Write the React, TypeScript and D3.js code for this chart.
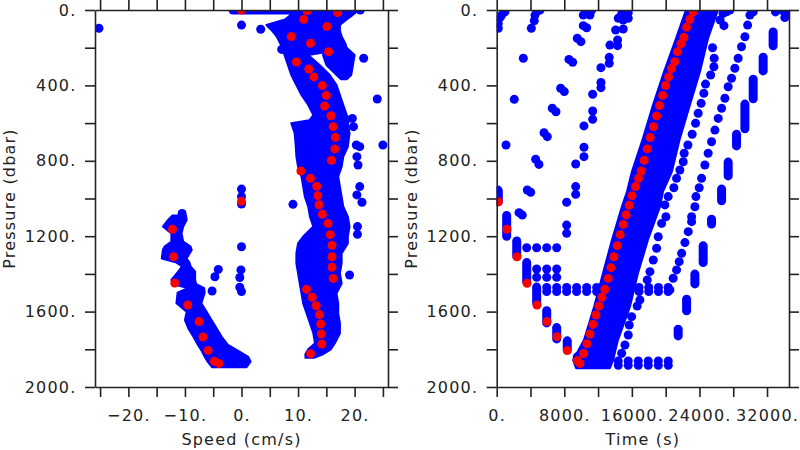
import { useEffect, useRef } from 'react';
import * as d3 from 'd3';

type Pt = [number, number];
type Row = [number, number, number]; // pressure, from, to
type Seg = [number, number, number, number];

// ---- shared axis values ----
const pressureTicks = [0, 200, 400, 600, 800, 1000, 1200, 1400, 1600, 1800, 2000];
const pressureLabels = [0, 400, 800, 1200, 1600, 2000];
const speedTicks = [-25, -20, -15, -10, -5, 0, 5, 10, 15, 20, 25];
const speedLabels = [-20, -10, 0, 10, 20];
const timeTicks = [0, 4000, 8000, 12000, 16000, 20000, 24000, 28000, 32000];
const timeLabels = [0, 8000, 16000, 24000, 32000];

// ---- left panel: speed (cm/s) vs pressure (dbar) ----
const leftRed: Pt[] = [
  [0, 0], [11.6, 4], [17.0, 14], [11.0, 50], [15.1, 88], [8.8, 141], [12.2, 177], [15.4, 221],
  [9.7, 276], [11.9, 313], [12.8, 355], [14.3, 401], [15.0, 453], [14.7, 509], [15.8, 561],
  [16.2, 619], [16.6, 675], [16.5, 737], [15.9, 797], [10.5, 854], [12.2, 893], [13.3, 935],
  [13.5, 985], [13.7, 1033], [14.3, 1084], [15.3, 1132], [15.7, 1192], [16.0, 1248], [16.0, 1309],
  [16.0, 1365], [16.2, 1424], [11.5, 1482], [12.5, 1524], [13.2, 1569], [13.8, 1616], [14.0, 1666],
  [14.1, 1719], [14.2, 1772], [12.2, 1823],
  [0, 1015], [-12.2, 1163], [-12.0, 1309], [-11.8, 1448], [-9.5, 1565], [-7.5, 1653],
  [-6.8, 1735], [-5.9, 1806], [-4.8, 1864], [-4.0, 1875],
];

const leftBlue: Pt[] = [
  [-25.2, 97], [0, 80], [3.4, 102], [7.1, 209], [21.0, 0], [21.6, 256], [24.0, 472],
  [19.6, 575], [19.8, 619], [25.0, 716], [20.3, 716], [20.9, 725], [20.4, 778], [20.6, 822],
  [20.9, 937], [20.4, 981], [21.3, 1020], [9.1, 1031], [20.5, 1149], [20.5, 1190], [19.1, 1406],
  [0, 950], [0, 990], [0, 1029], [0, 1256], [-0.1, 1379], [-0.3, 1419], [-0.3, 1471], [0, 1494],
  [-4.1, 1376], [-4.7, 1415], [-5.2, 1491], [-10.5, 1079],
];

// dense clouds, outer extent per pressure row
const leftCloudMain: Row[] = [
  [0, 9.1, 20.6], [30, 8.5, 19.5], [50, 7.7, 18.6], [80, 4.4, 17.4], [110, 5.4, 17.4],
  [140, 6.2, 17.7], [180, 6.9, 18.4], [205, 7.2, 18.6], [239, 7.6, 11.8], [292, 8.2, 13.8],
  [345, 8.8, 15.6], [398, 9.7, 16.8], [451, 10.6, 17.4], [504, 11.8, 18.0], [557, 12.7, 18.6],
  [585, 12.0, 19.2], [601, 8.8, 18.8], [654, 9.4, 19.1], [725, 9.6, 18.8], [778, 9.7, 18.0],
  [831, 10.0, 17.7], [884, 10.6, 17.1], [937, 10.9, 17.4], [990, 11.2, 17.7], [1043, 11.8, 18.0],
  [1096, 12.1, 18.8], [1149, 12.7, 19.1], [1202, 10.9, 18.8], [1238, 10.0, 18.8], [1291, 9.7, 17.7],
  [1344, 9.7, 17.7], [1397, 10.0, 17.4], [1451, 10.3, 17.7], [1503, 10.6, 16.8], [1556, 10.9, 17.1],
  [1609, 11.5, 17.1], [1662, 12.1, 17.4], [1715, 12.7, 17.4], [1768, 13.0, 16.5], [1800, 11.8, 15.8],
  [1825, 11.3, 14.5], [1845, 11.3, 12.8],
];
const leftCloudLobe: Row[] = [
  [200, 15.0, 18.6], [239, 14.4, 20.0], [292, 15.0, 19.7], [345, 16.8, 19.4], [368, 17.6, 18.6],
];
const leftCloudHook: Row[] = [
  [1090, -12.2, -9.8], [1114, -13.0, -9.7], [1149, -13.9, -10.3], [1185, -12.4, -10.6],
  [1229, -12.4, -10.3], [1255, -13.6, -9.0], [1273, -13.9, -8.8], [1318, -14.1, -9.7],
  [1340, -11.5, -9.2], [1360, -10.5, -9.0], [1388, -11.2, -8.2], [1432, -12.4, -8.2],
  [1455, -12.0, -8.0], [1475, -9.5, -6.6], [1500, -11.3, -6.5], [1556, -11.5, -7.1],
  [1600, -9.7, -6.2], [1645, -10.0, -5.3], [1689, -9.4, -4.4], [1734, -8.5, -3.5],
  [1777, -7.7, -2.4], [1810, -7.0, -0.5], [1840, -6.5, 1.2], [1865, -6.0, 1.6], [1895, -5.2, 0.9],
];
const leftStreaks: Seg[] = [[-1.5, 0, 19.7, 0]];

// ---- right panel: time (s) vs pressure (dbar) ----
const rightRed: Pt[] = [
  [190, 1017], [1220, 1163], [2400, 1309], [3590, 1450], [4770, 1565], [5950, 1653], [7130, 1733],
  [8350, 1807], [9540, 1860], [9850, 1875],
  [10290, 1822], [10680, 1770], [11040, 1719], [11390, 1668], [11750, 1618], [12100, 1570],
  [12460, 1524], [12810, 1482], [13200, 1424], [13520, 1367], [13880, 1309], [14270, 1250],
  [14620, 1192], [14980, 1137], [15330, 1086], [15690, 1036], [16020, 985], [16440, 937],
  [16800, 893], [17110, 854], [17460, 797], [17820, 737], [18170, 677], [18570, 619], [18930, 562],
  [19280, 507], [19640, 453], [19990, 401], [20350, 355], [20700, 311], [21090, 274], [21410, 221],
  [21800, 179], [22160, 145], [22480, 92], [22870, 49], [23260, 9],
];

const rightBlue: Pt[] = [
  [980, 9], [590, 27], [390, 40], [190, 71], [190, 97], [120, 955], [120, 1008],
  [5120, 0], [4730, 9], [4530, 27], [4450, 57], [4100, 97], [3150, 256], [2080, 474], [1100, 716],
  [11240, 0], [10840, 14], [10245, 27], [11040, 27], [10245, 83], [10650, 94], [9535, 150],
  [9970, 168], [8550, 262], [8990, 277], [7570, 415], [8000, 433], [6580, 521], [7015, 540],
  [5600, 651], [5990, 672], [4610, 792], [5000, 819], [3620, 955], [4020, 967], [2640, 1075],
  [3030, 1088],
  [15570, 14], [14800, 20], [15380, 27], [14390, 44], [15570, 44], [14980, 53], [14080, 106],
  [14980, 101], [14310, 159], [13400, 186], [14310, 189], [13320, 251], [13320, 283], [12340, 306],
  [12340, 384], [12340, 412], [11360, 447], [11360, 536], [11360, 580], [10330, 615], [10330, 728],
  [10330, 778], [9350, 817], [9350, 937], [9350, 978], [8280, 1020], [8280, 1141], [8280, 1185],
  [3550, 1261], [4730, 1261], [5920, 1261], [7100, 1261],
  [4730, 1374], [5920, 1374], [7100, 1374], [4730, 1418], [5920, 1418], [7100, 1418],
  [5920, 1472], [5920, 1494], [7100, 1472], [7100, 1494], [8280, 1472], [8280, 1494],
  [9460, 1472], [9460, 1494], [10650, 1472], [10650, 1494], [11830, 1472], [11830, 1494],
  [16850, 1472], [16850, 1494], [18000, 1472], [18000, 1494], [19150, 1472], [19150, 1494],
  [20300, 1472], [20300, 1494],
  [14390, 1862], [14390, 1885], [15570, 1862], [15570, 1885], [16760, 1862], [16760, 1885],
  [17940, 1862], [17940, 1885], [19130, 1862], [19130, 1885], [20310, 1862], [20310, 1885],
  // first line right of the main band
  [26800, 18], [27200, 9], [27600, 0], [26450, 53], [26900, 83],
  [25550, 200], [25740, 256], [25710, 301], [25320, 345], [24720, 393], [24520, 442], [24200, 495],
  [23850, 548], [23540, 601], [23140, 659], [22630, 716], [22190, 760], [22080, 805], [21680, 849],
  [21290, 893], [20970, 943], [20300, 990], [19910, 1034], [20030, 1097], [19520, 1132],
  [19120, 1203], [18930, 1264], [18530, 1326], [18140, 1388], [17820, 1432], [16950, 1538],
  [16630, 1570], [15970, 1627], [15690, 1671], [15570, 1724], [15180, 1777], [14790, 1821],
  // second line
  [30370, 9], [29970, 27], [29700, 80], [29380, 142], [28980, 195], [28580, 256], [28190, 309],
  [27800, 362], [27400, 407], [27010, 468], [26620, 521], [26220, 575], [25830, 637], [25430, 699],
  [25030, 760], [24640, 822], [24250, 893], [23970, 943], [23580, 990], [23460, 1044], [23070, 1097],
  [23070, 1123], [22670, 1176], [22280, 1234], [21890, 1291], [21600, 1335], [21290, 1379],
  [20890, 1423], [20500, 1485],
  [33000, 10], [33900, 5], [34500, 15], [34100, 40],
];

const rightCloudMain: Row[] = [
  [0, 22400, 26200], [150, 21230, 25020], [327, 19810, 24060], [504, 18500, 22870],
  [681, 17310, 21690], [857, 16010, 20740], [964, 15420, 19680], [1043, 14820, 19330],
  [1220, 13640, 17900], [1397, 12580, 16720], [1574, 11530, 15770], [1751, 10330, 14350],
  [1857, 9050, 13780], [1900, 9400, 13400],
];

const rightStreaks: Seg[] = [
  [190, 960, 190, 1017], [1180, 1090, 1180, 1200], [2370, 1225, 2370, 1305], [3550, 1340, 3550, 1440],
  [4730, 1470, 4730, 1555], [5920, 1595, 5920, 1660], [7100, 1685, 7100, 1745], [8350, 1755, 8350, 1800],
  [9540, 1840, 9540, 1860],
  [32720, 117, 32720, 190], [31540, 250, 31540, 323], [30360, 367, 30360, 471], [29380, 499, 29380, 630],
  [28390, 659, 28390, 721], [27400, 807, 27400, 880], [26620, 950, 26620, 1012], [25430, 1110, 25430, 1135],
  [24440, 1251, 24440, 1340], [23460, 1401, 23460, 1453], [22480, 1534, 22480, 1596], [21480, 1693, 21480, 1729],
];

// ---- drawing ----
const top = 10;
const bottom = 387;
const dotR = 4.5;
const ink = '#222';
const blue = '#0000ff';
const red = '#ff0000';

type Panel = {
  id: string;
  left: number;
  right: number;
  xDomain: [number, number];
  xTicks: number[];
  xLabels: number[];
  xTitle: string;
  clouds: Row[][];
  streaks: Seg[];
  blue: Pt[];
  red: Pt[];
};

const panels: Panel[] = [
  {
    id: 'speed', left: 95, right: 388, xDomain: [-25.9, 25.9],
    xTicks: speedTicks, xLabels: speedLabels, xTitle: 'Speed (cm/s)',
    clouds: [leftCloudMain, leftCloudLobe, leftCloudHook], streaks: leftStreaks,
    blue: leftBlue, red: leftRed,
  },
  {
    id: 'time', left: 496.7, right: 789, xDomain: [0, 34600],
    xTicks: timeTicks, xLabels: timeLabels, xTitle: 'Time (s)',
    clouds: [rightCloudMain], streaks: rightStreaks,
    blue: rightBlue, red: rightRed,
  },
];

const tickText = (d: number) => `${d < 0 ? '\u2212' : ''}${Math.abs(d)}.`;
const fmt = (labels: number[]) => (d: d3.NumberValue) => (labels.includes(+d) ? tickText(+d) : '');

function drawPanel(svg: d3.Selection<SVGSVGElement, unknown, null, undefined>, p: Panel) {
  const x = d3.scaleLinear().domain(p.xDomain).range([p.left, p.right]);
  const y = d3.scaleLinear().domain([0, 2000]).range([top, bottom]);

  svg.append('clipPath').attr('id', `clip-${p.id}`)
    .append('rect')
    .attr('x', p.left).attr('y', top)
    .attr('width', p.right - p.left).attr('height', bottom - top);

  const plot = svg.append('g').attr('clip-path', `url(#clip-${p.id})`);

  const area = d3.area<Row>()
    .y(d => y(d[0]))
    .x0(d => x(d[1]))
    .x1(d => x(d[2]));

  plot.selectAll('path.cloud')
    .data(p.clouds)
    .join('path')
    .attr('class', 'cloud')
    .attr('d', d => area(d))
    .attr('fill', blue)
    .attr('stroke', blue)
    .attr('stroke-width', 2)
    .attr('stroke-linejoin', 'round');

  plot.selectAll('line.streak')
    .data(p.streaks)
    .join('line')
    .attr('class', 'streak')
    .attr('x1', d => x(d[0])).attr('y1', d => y(d[1]))
    .attr('x2', d => x(d[2])).attr('y2', d => y(d[3]))
    .attr('stroke', blue)
    .attr('stroke-width', dotR * 2)
    .attr('stroke-linecap', 'round');

  plot.selectAll('circle.blue')
    .data(p.blue)
    .join('circle')
    .attr('class', 'blue')
    .attr('cx', d => x(d[0])).attr('cy', d => y(d[1]))
    .attr('r', dotR).attr('fill', blue);

  plot.selectAll('circle.red')
    .data(p.red)
    .join('circle')
    .attr('class', 'red')
    .attr('cx', d => x(d[0])).attr('cy', d => y(d[1]))
    .attr('r', dotR).attr('fill', red);

  // axes on all four sides, ticks pointing outward
  const axes = svg.append('g');
  axes.append('g').attr('transform', `translate(0,${bottom})`)
    .call(d3.axisBottom(x).tickValues(p.xTicks).tickFormat(fmt(p.xLabels))
      .tickSize(10).tickSizeOuter(0).tickPadding(13));
  axes.append('g').attr('transform', `translate(0,${top})`)
    .call(d3.axisTop(x).tickValues(p.xTicks).tickFormat(() => '').tickSize(10).tickSizeOuter(0));
  axes.append('g').attr('transform', `translate(${p.left},0)`)
    .call(d3.axisLeft(y).tickValues(pressureTicks).tickFormat(fmt(pressureLabels))
      .tickSize(10).tickSizeOuter(0).tickPadding(8.5));
  axes.append('g').attr('transform', `translate(${p.right},0)`)
    .call(d3.axisRight(y).tickValues(pressureTicks).tickFormat(() => '').tickSize(10).tickSizeOuter(0));

  axes.selectAll('.domain, .tick line').attr('stroke', ink).attr('stroke-width', 1.6);
  axes.selectAll('text')
    .attr('fill', ink)
    .attr('font-family', 'DejaVu Sans')
    .attr('font-size', 16)
    .attr('letter-spacing', 1.2);
  axes.selectAll('g').attr('font-family', null).attr('font-size', null);

  svg.append('text')
    .attr('x', (p.left + p.right) / 2).attr('y', 445)
    .attr('text-anchor', 'middle')
    .attr('fill', ink).attr('font-family', 'DejaVu Sans').attr('font-size', 16)
    .attr('letter-spacing', 1.2)
    .text(p.xTitle);

  svg.append('text')
    .attr('transform', `translate(${p.left - 80},${(top + bottom) / 2}) rotate(-90)`)
    .attr('text-anchor', 'middle')
    .attr('fill', ink).attr('font-family', 'DejaVu Sans').attr('font-size', 16)
    .attr('letter-spacing', 1.2)
    .text('Pressure (dbar)');
}

export default function App() {
  const ref = useRef<SVGSVGElement>(null);

  useEffect(() => {
    if (!ref.current) return;
    const svg = d3.select(ref.current);
    svg.selectAll('*').remove();
    panels.forEach(p => drawPanel(svg, p));
  }, []);

  return (
    <svg
      ref={ref}
      width={800}
      height={450}
      style={{ position: 'absolute', left: 0, top: 0, background: '#fff' }}
    />
  );
}
